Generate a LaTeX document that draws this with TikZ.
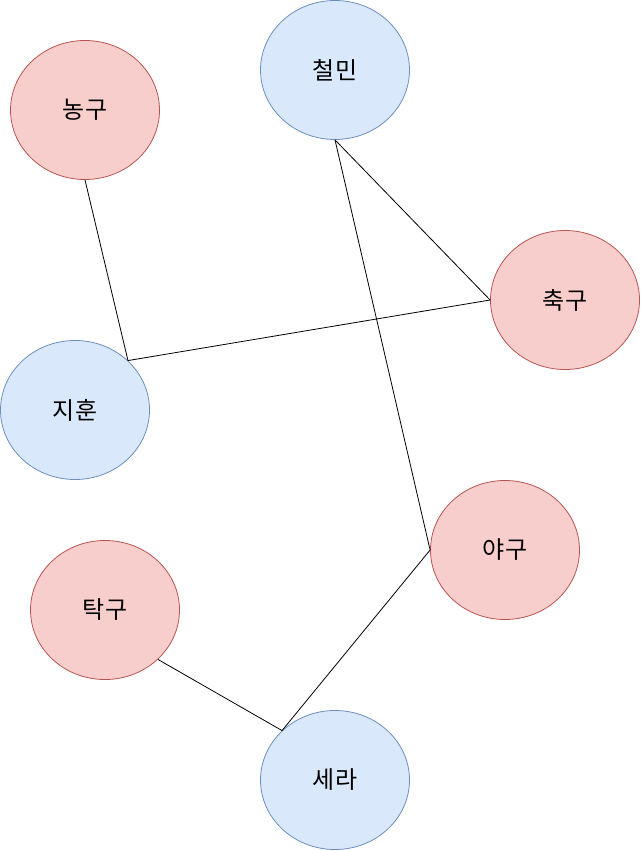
\documentclass[tikz,border=0pt]{standalone}
\usepackage{fontspec}
\setmainfont{Noto Sans CJK KR}
\usetikzlibrary{shapes.geometric}
\definecolor{redfill}{HTML}{F8CECC}
\definecolor{redline}{HTML}{B85450}
\definecolor{bluefill}{HTML}{DAE8FC}
\definecolor{blueline}{HTML}{6C8EBF}
\begin{document}
\begin{tikzpicture}[x=1pt,y=-1pt,
  base/.style={ellipse,minimum width=149pt,minimum height=139pt,inner sep=0pt,line width=0.8pt,font=\fontsize{24}{28}\selectfont},
  sport/.style={base,draw=redline,fill=redfill},
  person/.style={base,draw=blueline,fill=bluefill},
  link/.style={draw=black,line width=0.8pt}]
\useasboundingbox (0,0) rectangle (641,851);
\node[sport] (nonggu) at (85,110) {농구};
\node[person] (cheolmin) at (335,70) {철민};
\node[sport] (chukgu) at (565,300) {축구};
\node[person] (jihun) at (75,410) {지훈};
\node[sport] (yagu) at (505,550) {야구};
\node[sport] (takgu) at (105,610) {탁구};
\node[person] (sera) at (335,780) {세라};
\draw[link] (nonggu.south) -- (jihun.north east);
\draw[link] (jihun.north east) -- (chukgu.west);
\draw[link] (cheolmin.south) -- (chukgu.west);
\draw[link] (cheolmin.south) -- (yagu.west);
\draw[link] (takgu.south east) -- (sera.north west);
\draw[link] (sera.north west) -- (yagu.west);
\end{tikzpicture}
\end{document}
